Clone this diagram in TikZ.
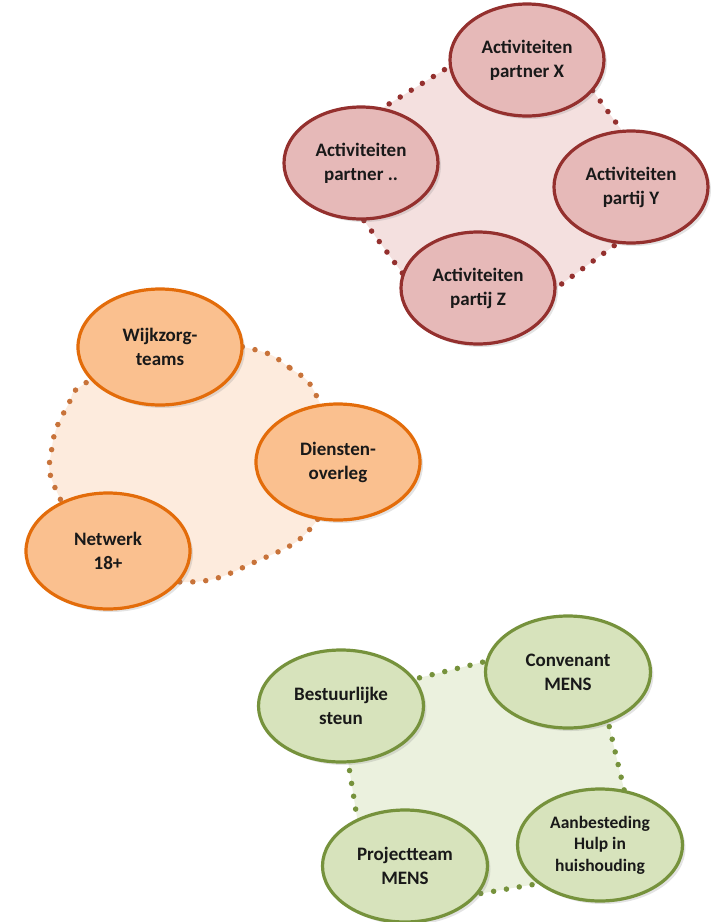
\documentclass[tikz,border=0pt]{standalone}
\usepackage{fontspec}
\setmainfont{Carlito}
\usetikzlibrary{shapes.geometric,shadows}

\definecolor{roodRand}{HTML}{94302E}
\definecolor{roodVul}{HTML}{E6B9B8}
\definecolor{roodVlak}{HTML}{F4E0DF}
\definecolor{oranjeRand}{HTML}{E36C0A}
\definecolor{oranjeStip}{HTML}{C8733A}
\definecolor{oranjeVul}{HTML}{FAC08F}
\definecolor{oranjeVlak}{HTML}{FDEBDD}
\definecolor{groenRand}{HTML}{76923C}
\definecolor{groenVul}{HTML}{D7E3BC}
\definecolor{groenVlak}{HTML}{EBF1DE}

\begin{document}
\begin{tikzpicture}[x=1pt,y=-1pt,
  bol/.style={ellipse,draw,line width=3.2pt,inner sep=0pt,align=center,
    font=\bfseries\fontsize{19}{24}\selectfont,text=black!90,
    drop shadow={shadow xshift=3pt,shadow yshift=-3pt,opacity=0.22}},
  rood/.style={bol,draw=roodRand,fill=roodVul,minimum width=154pt,minimum height=112pt},
  oranje/.style={bol,draw=oranjeRand,fill=oranjeVul,minimum width=164pt,minimum height=116pt},
  groen/.style={bol,draw=groenRand,fill=groenVul,minimum width=165pt,minimum height=112pt},
  stip/.style={line width=5.5pt,line cap=round,dash pattern=on 0pt off 13pt}]
\useasboundingbox (0,0) rectangle (724,922);

\coordinate (rT) at (536,13);
\coordinate (rR) at (674,202);
\coordinate (rB) at (463,356);
\coordinate (rL) at (313,151);

\coordinate (gTL) at (338,698);
\coordinate (gTR) at (588,636);
\coordinate (gBR) at (642,866);
\coordinate (gBL) at (372,912);

\filldraw[stip,draw=roodRand,fill=roodVlak,rounded corners=70pt]
  (rT)--(rR)--(rB)--(rL)--cycle;

\filldraw[stip,draw=oranjeStip,fill=oranjeVlak]
  plot[smooth cycle,tension=0.8] coordinates {
  (248,348) (290,368) (317,397) (333,460) (315,523) (255,562)
  (183,582) (105,560) (57,492) (52,447) (68,405) (87,382) (165,340)};

\filldraw[stip,draw=groenRand,fill=groenVlak,rounded corners=45pt]
  (gTL)--(gTR)--(gBR)--(gBL)--cycle;

\node[rood] (px) at (527,60) {Activiteiten\\partner X};
\node[rood] (pd) at (361,163) {Activiteiten\\partner ..};
\node[rood] (py) at (631,187) {Activiteiten\\partij Y};
\node[rood] (pz) at (478,288) {Activiteiten\\partij Z};

\node[oranje] (wz) at (160,347) {Wijkzorg-\\teams};
\node[oranje] (do) at (338,462) {Diensten-\\overleg};
\node[oranje] (nw) at (108,551) {Netwerk\\18+};

\node[groen] (cm) at (568,672) {Convenant\\MENS};
\node[groen] (bs) at (341,706) {Bestuurlijke\\steun};
\node[groen,font=\bfseries\fontsize{17.5}{21.5}\selectfont] (ah) at (600,845)
  {Aanbesteding\\Hulp in\\huishouding};
\node[groen] (pm) at (405,866) {Projectteam\\MENS};
\end{tikzpicture}
\end{document}
